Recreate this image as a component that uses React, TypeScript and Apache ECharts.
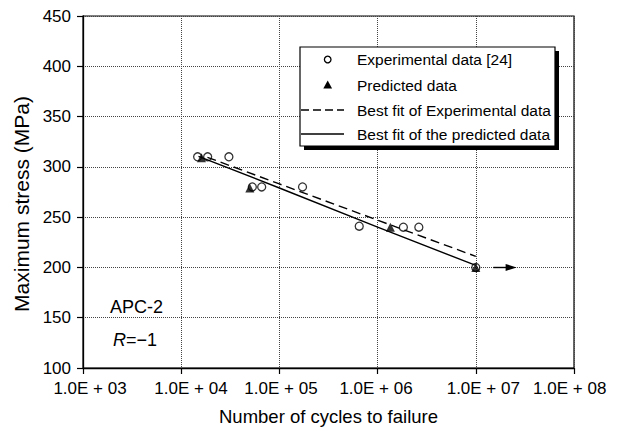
import React, { useEffect, useRef } from "react";
import * as echarts from "echarts";

// ---- data ----
const expCycles = [14700, 18600, 30600, 53000, 66000, 172000, 650000, 1830000, 2630000, 10000000];
const expStress = [310, 310, 310, 280, 280, 280, 241, 240, 240, 200];
const predCycles = [16100, 50000, 1350000, 10000000];
const predStress = [309, 279, 240, 200];
const fitExpCycles = [18500, 100000, 1000000, 10000000];
const fitExpStress = [309.5, 283, 247, 211];
const fitPredCycles = [15000, 100000, 1000000, 10000000];
const fitPredStress = [310.5, 279, 240, 202];
const arrowCycles = [15100000, 22900000];
const arrowStress = [200, 200];
const xMinCycles = 1000;
const xMaxCycles = 100000000;
const yMin = 100;
const yMax = 450;
const yStep = 50;
const xLabelShift = [7, 9.8, 1.6, -1.6, 7.5, -4.3];
const legendLabels = [
  "Experimental data [24]",
  "Predicted data",
  "Best fit of Experimental data",
  "Best fit of the predicted data",
];
const xAxisTitle = "Number of cycles to failure";
const yAxisTitle = "Maximum stress (MPa)";
const materialLabel = "APC-2";

const FONT = "'Liberation Sans', Arial, Helvetica, sans-serif";

const zip = (a: number[], b: number[]) => a.map((v, i) => [v, b[i]]);

export default function App() {
  const ref = useRef<HTMLDivElement>(null);
  useEffect(() => {
    if (!ref.current) return;
    const chart = echarts.init(ref.current, undefined, { renderer: "svg" });

    const rich: Record<string, any> = {};
    xLabelShift.forEach((s, i) => {
      rich["s" + i] = {
        fontSize: 17,
        fontFamily: FONT,
        color: "#000",
        padding: s >= 0 ? [0, 0, 0, 2 * s] : [0, -2 * s, 0, 0],
      };
    });

    const legendTextX = 357;
    const rowY = [59.5, 85, 110, 134];

    const option: any = {
      animation: false,
      backgroundColor: "#fff",
      textStyle: { fontFamily: FONT },
      grid: {
        left: 83,
        right: 44,
        top: 16,
        bottom: 59,
        show: true,
        borderColor: "#000",
        borderWidth: 1.2,
        backgroundColor: "transparent",
      },
      xAxis: {
        type: "log",
        logBase: 10,
        min: xMinCycles,
        max: xMaxCycles,
        name: xAxisTitle,
        nameLocation: "middle",
        nameGap: 39,
        nameTextStyle: { fontSize: 18.5, color: "#000", fontFamily: FONT },
        axisLine: { lineStyle: { color: "#000", width: 1.3 } },
        axisTick: { show: true, length: 6, lineStyle: { color: "#000", width: 1.2 } },
        minorTick: { show: false },
        splitLine: { show: true, lineStyle: { color: "#444", width: 1, type: [1, 1] } },
        axisLabel: {
          interval: 0,
          margin: 12,
          fontSize: 17,
          color: "#000",
          fontFamily: FONT,
          formatter: (v: number) => {
            const e = Math.round(Math.log10(v));
            const idx = e - 3;
            return `{s${idx}|1.0E + ${e < 10 ? "0" + e : e}}`;
          },
          rich,
        },
      },
      yAxis: {
        type: "value",
        min: yMin,
        max: yMax,
        interval: yStep,
        name: yAxisTitle,
        nameLocation: "middle",
        nameGap: 45,
        nameTextStyle: {
          fontSize: 21,
          color: "#000",
          fontFamily: FONT,
          padding: [0, 24, 0, 0],
        },
        axisLine: { show: true, lineStyle: { color: "#000", width: 1.3 } },
        axisTick: { show: true, length: 6, lineStyle: { color: "#000", width: 1.2 } },
        splitLine: { show: true, lineStyle: { color: "#444", width: 1, type: [1, 1] } },
        axisLabel: { margin: 12, fontSize: 17, color: "#000", fontFamily: FONT },
      },
      series: [
        {
          name: legendLabels[3],
          type: "line",
          data: zip(fitPredCycles, fitPredStress),
          symbol: "none",
          lineStyle: { color: "#000", width: 1.4, type: "solid" },
          z: 2,
        },
        {
          name: legendLabels[2],
          type: "line",
          data: zip(fitExpCycles, fitExpStress),
          symbol: "none",
          lineStyle: { color: "#000", width: 1.4, type: [9, 5] },
          z: 2,
        },
        {
          name: legendLabels[1],
          type: "scatter",
          data: zip(predCycles, predStress),
          symbol: "triangle",
          symbolSize: [9, 9],
          itemStyle: { color: "#000" },
          z: 3,
          markLine: {
            silent: true,
            label: { show: false },
            lineStyle: { color: "#000", width: 1.4, type: "solid" },
            data: [
              [
                { coord: [arrowCycles[0], arrowStress[0]], symbol: "none" },
                { coord: [arrowCycles[1], arrowStress[1]], symbol: "triangle", symbolSize: [7, 11] },
              ],
            ],
          },
        },
        {
          name: legendLabels[0],
          type: "scatter",
          data: zip(expCycles, expStress),
          symbol: "circle",
          symbolSize: 8,
          itemStyle: { color: "rgba(255,255,255,0)", borderColor: "#000", borderWidth: 1.3 },
          z: 4,
        },
      ],
      graphic: [
        // legend shadow + box
        {
          type: "rect",
          shape: { x: 304, y: 51, width: 255, height: 99 },
          style: { fill: "#000" },
          z: 100,
        },
        {
          type: "rect",
          shape: { x: 300, y: 47, width: 255, height: 99 },
          style: { fill: "#fff", stroke: "#000", lineWidth: 1.2 },
          z: 101,
        },
        {
          type: "circle",
          shape: { cx: 327.7, cy: rowY[0], r: 3.3 },
          style: { fill: "#fff", stroke: "#000", lineWidth: 1.3 },
          z: 102,
        },
        {
          type: "polygon",
          shape: { points: [[323.3, 88.5], [332.1, 88.5], [327.7, 80.5]] },
          style: { fill: "#000" },
          z: 102,
        },
        {
          type: "line",
          shape: { x1: 301, y1: rowY[2], x2: 344, y2: rowY[2] },
          style: { stroke: "#000", lineWidth: 1.3, lineDash: [8, 4] },
          z: 102,
        },
        {
          type: "line",
          shape: { x1: 301, y1: rowY[3], x2: 344, y2: rowY[3] },
          style: { stroke: "#000", lineWidth: 1.3 },
          z: 102,
        },
        ...legendLabels.map((t, i) => ({
          type: "text",
          x: legendTextX,
          y: rowY[i],
          z: 102,
          style: {
            text: t,
            fontSize: 15.5,
            fontFamily: FONT,
            fill: "#000",
            verticalAlign: "middle",
            align: "left",
          },
        })),
        // annotations
        {
          type: "text",
          x: 110,
          y: 307,
          z: 102,
          style: {
            text: materialLabel,
            fontSize: 18,
            fontFamily: FONT,
            fill: "#000",
            verticalAlign: "middle",
            align: "left",
          },
        },
        {
          type: "text",
          x: 113,
          y: 340,
          z: 102,
          style: {
            text: "{i|R}{n|=−1}",
            fontSize: 18,
            fontFamily: FONT,
            fill: "#000",
            verticalAlign: "middle",
            align: "left",
            rich: {
              i: { fontStyle: "italic", fontSize: 18, fontFamily: FONT, fill: "#000", color: "#000" },
              n: { fontSize: 18, fontFamily: FONT, fill: "#000", color: "#000" },
            },
          },
        },
      ],
    };

    chart.setOption(option);
    return () => chart.dispose();
  }, []);

  return (
    <div
      ref={ref}
      style={{ position: "fixed", left: 0, top: 0, width: 618, height: 431, background: "#fff" }}
    />
  );
}
